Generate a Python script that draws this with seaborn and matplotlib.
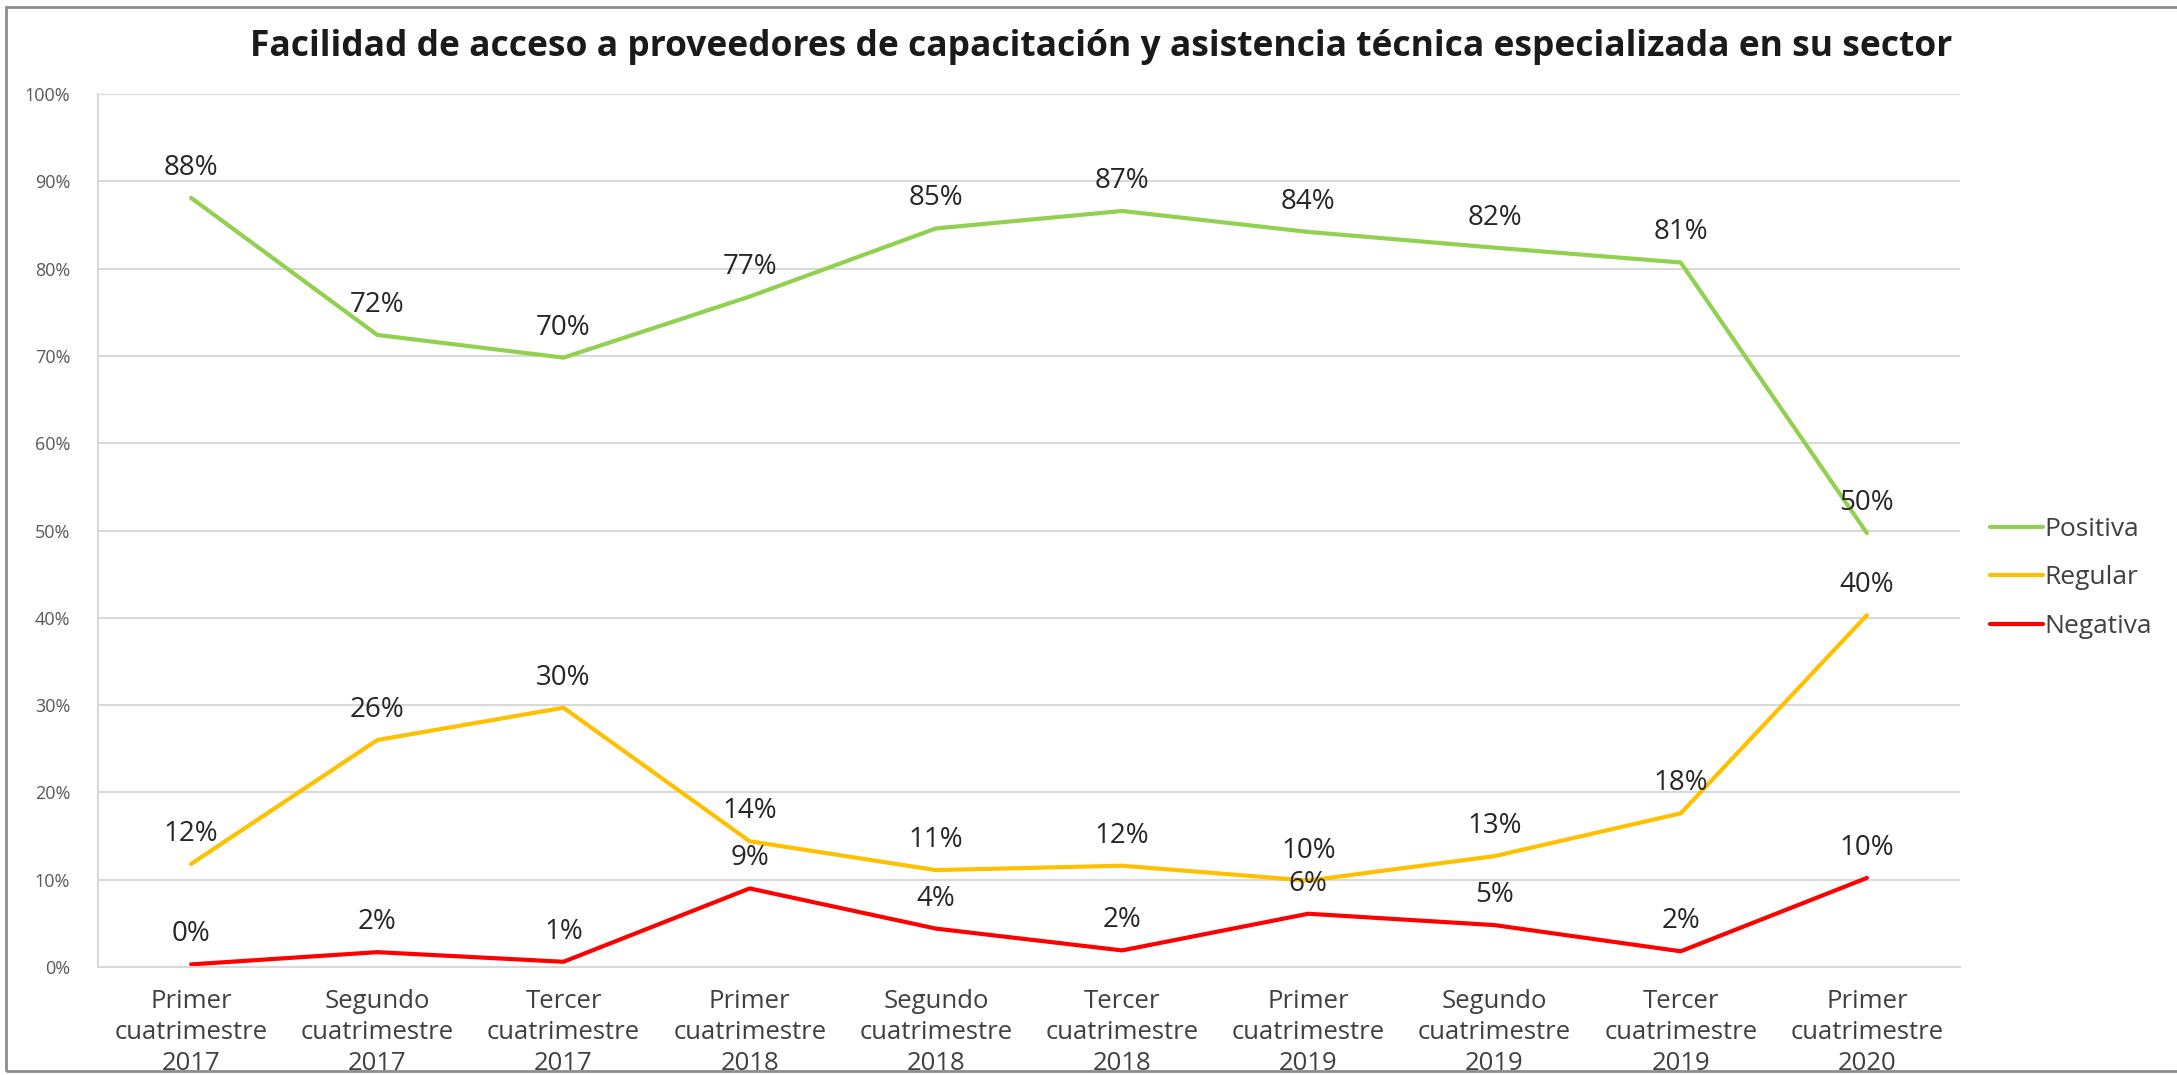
import matplotlib
matplotlib.use("Agg")
import matplotlib.pyplot as plt
import seaborn as sns
import pandas as pd
from matplotlib.patches import Rectangle

categories = [
    "Primer\ncuatrimestre\n2017", "Segundo\ncuatrimestre\n2017", "Tercer\ncuatrimestre\n2017",
    "Primer\ncuatrimestre\n2018", "Segundo\ncuatrimestre\n2018", "Tercer\ncuatrimestre\n2018",
    "Primer\ncuatrimestre\n2019", "Segundo\ncuatrimestre\n2019", "Tercer\ncuatrimestre\n2019",
    "Primer\ncuatrimestre\n2020",
]
positiva = [88.1, 72.4, 69.8, 76.8, 84.6, 86.6, 84.2, 82.4, 80.7, 49.7]
regular = [11.8, 26.0, 29.7, 14.4, 11.1, 11.6, 9.9, 12.7, 17.6, 40.3]
negativa = [0.3, 1.7, 0.6, 9.0, 4.4, 1.9, 6.1, 4.8, 1.8, 10.2]
series_names = ["Positiva", "Regular", "Negativa"]
colors = ["#92D050", "#FFC000", "#FF0000"]
yticks = [0, 10, 20, 30, 40, 50, 60, 70, 80, 90, 100]
title = "Facilidad de acceso a proveedores de capacitación y asistencia técnica especializada en su sector"

sns.set_theme(style="white")
plt.rcParams["font.family"] = ["Open Sans", "DejaVu Sans"]

rows = []
for name, vals in zip(series_names, [positiva, regular, negativa]):
    for i, v in enumerate(vals):
        rows.append({"idx": i, "value": v, "serie": name})
df = pd.DataFrame(rows)

fig = plt.figure(figsize=(21.77, 10.75), dpi=100)
ax = fig.add_axes([98 / 2177, 1 - 967 / 1075, (1960 - 98) / 2177, (967 - 94) / 1075])

sns.lineplot(data=df, x="idx", y="value", hue="serie", hue_order=series_names,
             palette=colors, linewidth=3, ax=ax, legend=True)

ax.set_xlim(-0.5, len(categories) - 0.5)
ax.set_ylim(0, 100)
ax.set_yticks(yticks)
ax.set_yticklabels([f"{t}%" for t in yticks], fontsize=13, color="#595959")
ax.set_xticks(range(len(categories)))
ax.set_xticklabels(categories, fontsize=18.5, color="#404040", linespacing=1.3)
ax.tick_params(axis="y", length=0, pad=20)
ax.tick_params(axis="x", length=0, pad=16)
ax.set_xlabel("")
ax.set_ylabel("")
ax.grid(axis="y", color="#D9D9D9", linewidth=1.5)
ax.set_axisbelow(True)
for s in ["top", "right"]:
    ax.spines[s].set_visible(False)
ax.spines["left"].set_color("#D9D9D9")
ax.spines["bottom"].set_color("#D9D9D9")
ax.spines["left"].set_linewidth(1.5)
ax.spines["bottom"].set_linewidth(1.5)

for vals in [positiva, regular, negativa]:
    for i, v in enumerate(vals):
        ax.annotate(f"{round(v):d}%", (i, v), xytext=(0, 30), textcoords="offset pixels",
                    ha="center", va="center", fontsize=20, color="#262626")

leg = ax.legend(loc="center left", bbox_to_anchor=(1990 / 2177, 1 - 578 / 1075),
                bbox_transform=fig.transFigure, frameon=False, fontsize=19,
                handlelength=2.0, handletextpad=0.05, labelspacing=0.9,
                borderpad=0, borderaxespad=0)
for t in leg.get_texts():
    t.set_color("#404040")
for l in leg.get_lines():
    l.set_linewidth(3)

fig.text(1101 / 2177, 1 - 47 / 1075, title, ha="center", va="center",
         fontsize=25.5, fontweight="bold", color="#1a1a1a")

fig.patches.append(Rectangle((6 / 2177, 4 / 1075), 1.1, 1 - 11 / 1075,
                             transform=fig.transFigure, fill=False,
                             edgecolor="#8c8c8c", linewidth=2))

fig.savefig("out.png", dpi=100)
